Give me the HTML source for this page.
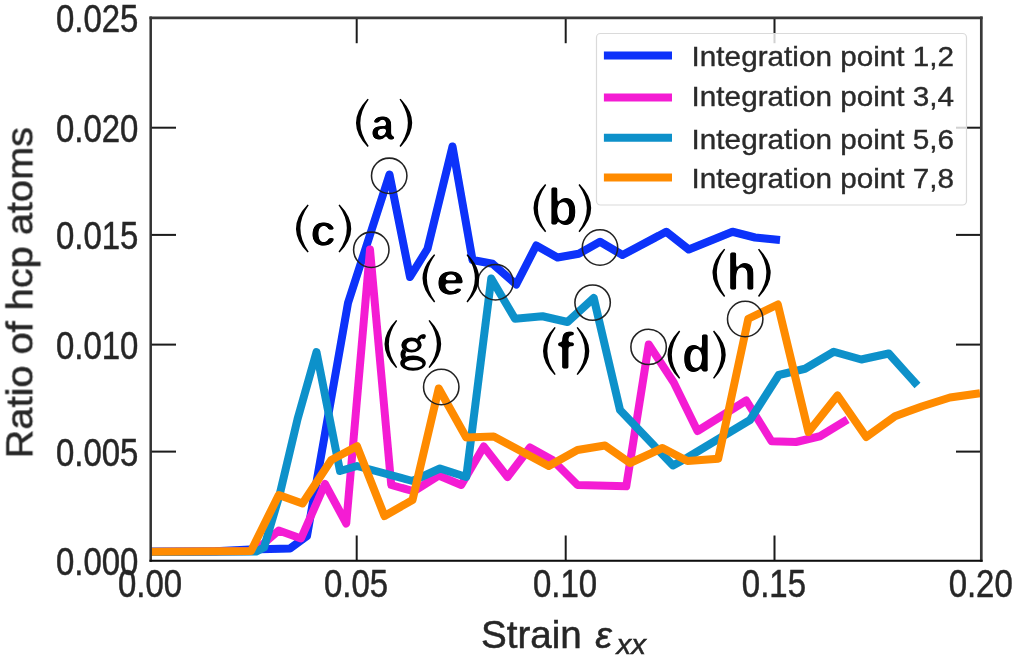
<!DOCTYPE html>
<html>
<head>
<meta charset="utf-8">
<title>Ratio of hcp atoms vs strain</title>
<style>
  html, body { margin: 0; padding: 0; background: #ffffff; }
  body { width: 1016px; height: 657px; overflow: hidden; font-family: "Liberation Sans", sans-serif; }
  svg { display: block; }
  text { font-family: "Liberation Sans", sans-serif; fill: #262626; stroke: #262626; stroke-width: 0.5px; }
  .tick { font-size: 39px; }
  .lbl text, .lbl path, .lbl circle { fill: #000; stroke: none; }
  .leg { font-size: 27px; }
  .leg text { fill: #2a2a2a; stroke: #2a2a2a; stroke-width: 0.35px; }
  .series { fill: none; stroke-width: 8.0; stroke-linejoin: round; stroke-linecap: butt; }
  .circ { fill: none; stroke: #222; stroke-width: 1.55; }
  .tk { stroke: #1a1a1a; stroke-width: 2; }
</style>
</head>
<body>
<svg width="1016" height="657" viewBox="0 0 1016 657">
  <defs>
    <filter id="soft" x="0" y="0" width="1016" height="657" filterUnits="userSpaceOnUse"><feGaussianBlur stdDeviation="0.72"/></filter>
    <filter id="thin" x="-20%" y="-20%" width="140%" height="140%"><feGaussianBlur stdDeviation="0.9"/><feComponentTransfer><feFuncA type="linear" slope="4" intercept="-2.08"/></feComponentTransfer></filter>
    <filter id="thin2" x="-20%" y="-20%" width="140%" height="140%"><feGaussianBlur stdDeviation="0.9"/><feComponentTransfer><feFuncA type="linear" slope="4" intercept="-1.95"/></feComponentTransfer></filter>
    <clipPath id="plotclip"><rect x="150.7" y="17.9" width="830.5999999999999" height="542.9"/></clipPath>
  </defs>
  <rect x="0" y="0" width="1016" height="657" fill="#ffffff"/>
  <g id="all" filter="url(#soft)">
  <!-- ticks (inward) -->
  <g class="tk">
    <line x1="356.70" y1="560.8" x2="356.70" y2="535.5"/>
    <line x1="356.70" y1="17.9" x2="356.70" y2="43.2"/>
    <line x1="565.70" y1="560.8" x2="565.70" y2="535.5"/>
    <line x1="565.70" y1="17.9" x2="565.70" y2="43.2"/>
    <line x1="774.50" y1="560.8" x2="774.50" y2="535.5"/>
    <line x1="774.50" y1="17.9" x2="774.50" y2="43.2"/>
    <line x1="150.7" y1="451.60" x2="176.0" y2="451.60"/>
    <line x1="981.3" y1="451.60" x2="956.0" y2="451.60"/>
    <line x1="150.7" y1="344.60" x2="176.0" y2="344.60"/>
    <line x1="981.3" y1="344.60" x2="956.0" y2="344.60"/>
    <line x1="150.7" y1="234.90" x2="176.0" y2="234.90"/>
    <line x1="981.3" y1="234.90" x2="956.0" y2="234.90"/>
    <line x1="150.7" y1="127.70" x2="176.0" y2="127.70"/>
    <line x1="981.3" y1="127.70" x2="956.0" y2="127.70"/>
  </g>
  <!-- data series -->
  <g clip-path="url(#plotclip)">
    <polyline class="series" stroke="#0832fa" points="150.7,551.6 215,551.2 250,549.6 290,548.5 307,536 348,303 389.5,174.5 410,277 427.5,248.75 452.5,146.5 472.5,260 492.5,263.75 516.25,284.5 536.25,245.5 557.5,257.5 578.75,253.75 600,241.75 622.5,255 666.25,231.75 688.75,249.5 732.5,231.75 755,237.5 780,240"/>
    <polyline class="series" stroke="#f41fd3" points="150.7,552 255,551 278.75,530.5 301,538.5 325,484 346.25,523.5 370,249.5 391.25,485 413.75,491.25 438.75,475.5 461.25,485 483.75,446.5 507.5,477 530,447.5 552.5,460 577.5,485 626.25,486.25 648.75,344.5 673.75,382.5 697.5,431 746.25,400.5 771.5,441.25 796,442 820,436.25 847.5,419.5"/>
    <polyline class="series" stroke="#0b91ca" points="150.7,552 256,551.6 264,547.5 279.8,494 297.6,418.8 316.5,352 340,471 357,466 412.5,481 440,468.5 466.25,477 491.25,278.5 515,318.75 542.5,316.25 567.5,322 593.75,298 620,410 673,465.5 687.5,457.5 750,420 778.75,375 805,368.75 833.75,351.75 861.25,359.5 888.75,353.5 917.5,385.5"/>
    <polyline class="series" stroke="#ff8b06" points="150.7,551.75 251,551 278.75,495 302.5,503.5 331.25,460 357,446.25 384.5,516 412.5,500 438.75,388.5 466.25,437.5 493.75,436.5 548.75,466 577.5,450 605,445.5 630,463 662.5,448 687.5,461 718.2,458.75 748.3,318.75 777.8,304.5 808.5,432 837.5,395.5 866.25,437 895,416.25 922.5,406.25 950,397.5 980,393.25"/>
  </g>
  <!-- spines -->
  <line x1="150.7" y1="16.599999999999998" x2="150.7" y2="561.8" stroke="#303030" stroke-width="2.5"/>
  <line x1="981.3" y1="16.599999999999998" x2="981.3" y2="561.8" stroke="#383838" stroke-width="2.7"/>
  <line x1="149.5" y1="17.9" x2="982.5999999999999" y2="17.9" stroke="#383838" stroke-width="2.6"/>
  <line x1="149.5" y1="560.8" x2="982.5999999999999" y2="560.8" stroke="#080808" stroke-width="2.1"/>
  <!-- annotation circles -->
  <g>
    <circle class="circ" cx="389.2" cy="175.8" r="17.7"/>
    <circle class="circ" cx="371.3" cy="249.8" r="17.7"/>
    <circle class="circ" cx="495.5" cy="282.3" r="17.7"/>
    <circle class="circ" cx="441.25" cy="387" r="17.7"/>
    <circle class="circ" cx="600" cy="247.5" r="17.7"/>
    <circle class="circ" cx="592.6" cy="302.6" r="17.7"/>
    <circle class="circ" cx="648.6" cy="346.9" r="17.7"/>
    <circle class="circ" cx="745.2" cy="319.0" r="17.7"/>
  </g>
  <!-- annotation labels -->
  <g class="lbl">
    <path d="M367.60,98.70 Q344.40,122.80 367.60,146.90 L368.70,146.00 Q352.00,122.80 368.70,99.60 Z"/>
    <text transform="translate(370.72,139.66) scale(0.964,1)" style="font-family:'Liberation Sans',sans-serif;font-weight:bold;font-size:44.20px" filter="url(#thin2)">a</text>
    <path d="M400.60,98.70 Q423.80,122.80 400.60,146.90 L399.50,146.00 Q416.20,122.80 399.50,99.60 Z"/>
    <path d="M307.60,204.40 Q284.40,228.50 307.60,252.60 L308.70,251.70 Q292.00,228.50 308.70,205.30 Z"/>
    <text transform="translate(310.14,245.56) scale(1.058,1)" style="font-family:'Liberation Sans',sans-serif;font-weight:bold;font-size:44.02px" filter="url(#thin2)">c</text>
    <path d="M339.60,204.40 Q362.80,228.50 339.60,252.60 L338.50,251.70 Q355.20,228.50 338.50,205.30 Z"/>
    <path d="M434.10,254.20 Q410.90,278.30 434.10,302.40 L435.20,301.50 Q418.50,278.30 435.20,255.10 Z"/>
    <text transform="translate(435.92,295.16) scale(1.177,1)" style="font-family:'Liberation Sans',sans-serif;font-weight:bold;font-size:44.20px" filter="url(#thin2)">e</text>
    <path d="M467.60,254.20 Q490.80,278.30 467.60,302.40 L466.50,301.50 Q483.20,278.30 466.50,255.10 Z"/>
    <path d="M396.10,319.90 Q372.90,344.00 396.10,368.10 L397.20,367.20 Q380.50,344.00 397.20,320.80 Z"/>
    <g><path fill-rule="evenodd" d="M401.30,345.00 a10.20,7.50 0 1,0 20.40,0 a10.20,7.50 0 1,0 -20.40,0 Z M406.50,345.50 a5.60,4.30 0 1,0 11.20,0 a5.60,4.30 0 1,0 -11.20,0 Z"/><path fill-rule="evenodd" d="M400.20,363.10 a12.80,7.60 0 1,0 25.60,0 a12.80,7.60 0 1,0 -25.60,0 Z M404.70,363.90 a8.90,3.90 0 1,0 17.80,0 a8.90,3.90 0 1,0 -17.80,0 Z"/><path d="M418.3,339.8 Q420.3,335.6 424.2,335.9" style="fill:none;stroke:#000;stroke-width:3.1;stroke-linecap:round"/><circle cx="423.3" cy="336.7" r="2.3"/><path d="M404.6,350.2 Q401.6,354.0 404.0,358.2" style="fill:none;stroke:#000;stroke-width:4.8;stroke-linecap:butt"/></g>
    <path d="M429.60,319.90 Q452.80,344.00 429.60,368.10 L428.50,367.20 Q445.20,344.00 428.50,320.80 Z"/>
    <path d="M545.10,184.00 Q521.90,208.10 545.10,232.20 L546.20,231.30 Q529.50,208.10 546.20,184.90 Z"/>
    <text transform="translate(547.52,224.83) scale(0.961,1)" style="font-family:'Liberation Sans',sans-serif;font-weight:bold;font-size:51.70px" filter="url(#thin)">b</text>
    <path d="M579.60,184.00 Q602.80,208.10 579.60,232.20 L578.50,231.30 Q595.20,208.10 578.50,184.90 Z"/>
    <path d="M554.60,326.90 Q531.40,351.00 554.60,375.10 L555.70,374.20 Q539.00,351.00 555.70,327.80 Z"/>
    <text transform="translate(556.83,368.85) scale(1.017,1)" style="font-family:'Liberation Sans',sans-serif;font-weight:bold;font-size:51.72px" filter="url(#thin)">f</text>
    <path d="M577.70,326.90 Q600.90,351.00 577.70,375.10 L576.60,374.20 Q593.30,351.00 576.60,327.80 Z"/>
    <path d="M679.10,330.60 Q655.90,354.70 679.10,378.80 L680.20,377.90 Q663.50,354.70 680.20,331.50 Z"/>
    <text transform="translate(681.80,371.83) scale(0.930,1)" style="font-family:'Liberation Sans',sans-serif;font-weight:bold;font-size:52.38px" filter="url(#thin)">d</text>
    <path d="M714.10,330.60 Q737.30,354.70 714.10,378.80 L713.00,377.90 Q729.70,354.70 713.00,331.50 Z"/>
    <path d="M724.10,248.70 Q700.90,272.80 724.10,296.90 L725.20,296.00 Q708.50,272.80 725.20,249.60 Z"/>
    <text transform="translate(726.24,289.85) scale(0.971,1)" style="font-family:'Liberation Sans',sans-serif;font-weight:bold;font-size:51.72px" filter="url(#thin)">h</text>
    <path d="M759.10,248.70 Q782.30,272.80 759.10,296.90 L758.00,296.00 Q774.70,272.80 758.00,249.60 Z"/>
  </g>
  <!-- legend -->
  <g>
    <rect x="596.5" y="33.5" width="370" height="171.5" rx="4" ry="4" fill="#ffffff" fill-opacity="0.8" stroke="#dadada" stroke-width="1.2"/>
    <line x1="603.9" y1="55.4" x2="672.0" y2="55.4" stroke="#0832fa" stroke-width="8.0"/>
    <line x1="603.9" y1="97.6" x2="672.0" y2="97.6" stroke="#f41fd3" stroke-width="8.0"/>
    <line x1="603.9" y1="137.7" x2="672.0" y2="137.7" stroke="#0b91ca" stroke-width="8.0"/>
    <line x1="603.9" y1="177.6" x2="672.0" y2="177.6" stroke="#ff8b06" stroke-width="8.0"/>
    <g class="leg">
      <text transform="translate(691.6,65.9) scale(1.1,1)">Integration point 1,2</text>
      <text transform="translate(691.6,105.8) scale(1.1,1)">Integration point 3,4</text>
      <text transform="translate(691.6,148.7) scale(1.1,1)">Integration point 5,6</text>
      <text transform="translate(691.6,187.8) scale(1.1,1)">Integration point 7,8</text>
    </g>
  </g>
  <!-- y tick labels -->
  <g class="tick" text-anchor="end">
    <text transform="translate(138.4,32.20) scale(0.845,1)">0.025</text>
    <text transform="translate(138.4,142.00) scale(0.845,1)">0.020</text>
    <text transform="translate(138.4,249.20) scale(0.845,1)">0.015</text>
    <text transform="translate(138.4,358.90) scale(0.845,1)">0.010</text>
    <text transform="translate(138.4,465.90) scale(0.845,1)">0.005</text>
    <text transform="translate(138.4,575.10) scale(0.845,1)">0.000</text>
  </g>
  <!-- x tick labels -->
  <g class="tick" text-anchor="middle">
    <text transform="translate(150.10,597.0) scale(0.845,1)">0.00</text>
    <text transform="translate(356.10,597.0) scale(0.845,1)">0.05</text>
    <text transform="translate(565.10,597.0) scale(0.845,1)">0.10</text>
    <text transform="translate(773.90,597.0) scale(0.845,1)">0.15</text>
    <text transform="translate(980.70,597.0) scale(0.845,1)">0.20</text>
  </g>
  <!-- axis labels -->
  <text transform="translate(32.4,458.3) rotate(-90) scale(1.0745,1)" font-size="37">Ratio of hcp atoms</text>
  <text x="481.0" y="648.2" font-size="38.6">Strain</text>
  <text transform="translate(595.34,648.22) scale(0.996,1)" style="font-family:'Liberation Sans',sans-serif;font-size:37.63px;font-style:italic">ε</text>
  <text transform="translate(616.58,654.40) scale(1.034,1)" style="font-family:'Liberation Sans',sans-serif;font-size:28.44px;font-style:italic">xx</text>
  </g>
</svg>
</body>
</html>
